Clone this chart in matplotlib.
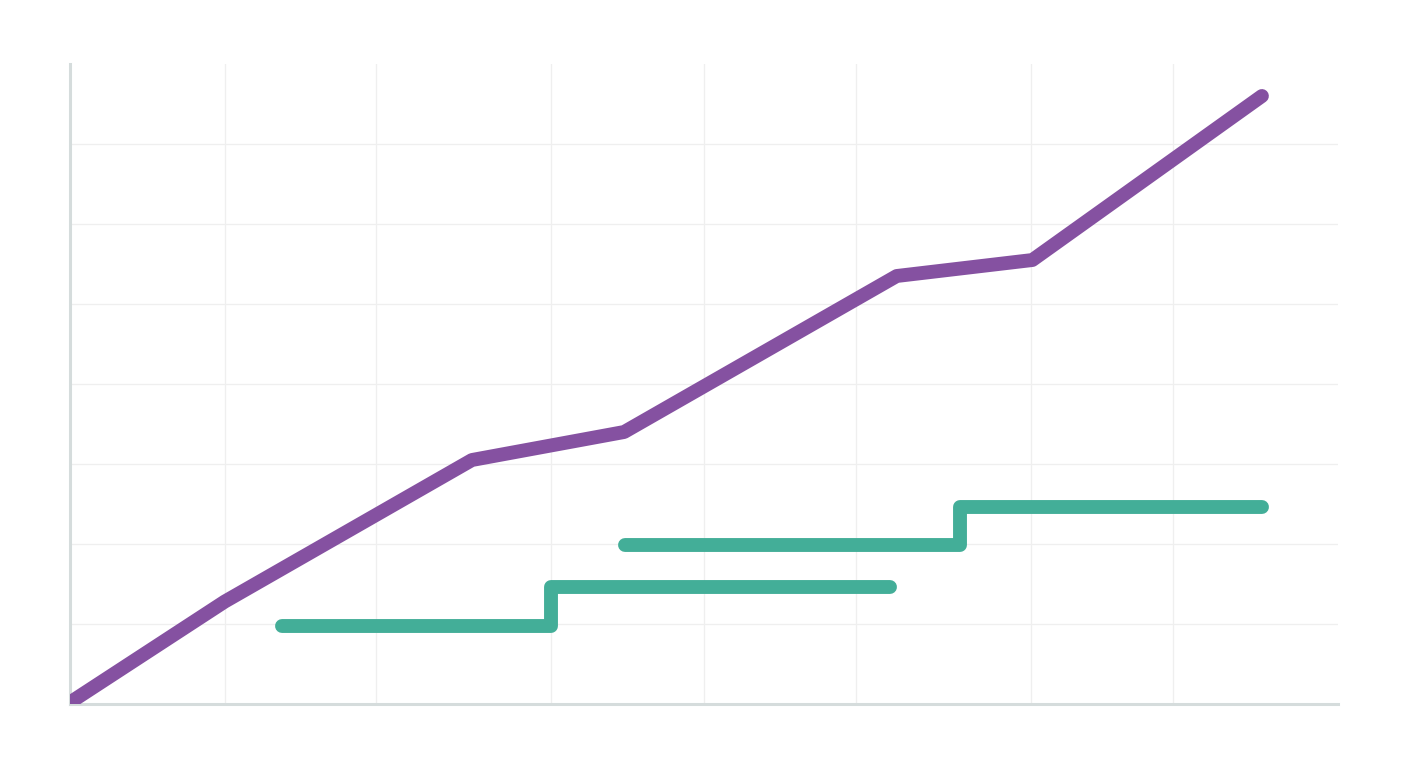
import numpy as np
from matplotlib import pyplot as plt

# x in arbitrary units (0..100), y in grid units (0..8)
x_ticks = [12.2, 24.1, 37.9, 50.0, 62.0, 75.8, 87.0]
y_ticks = [1, 2, 3, 4, 5, 6, 7]

trend_x = [0.3, 12.2, 31.7, 43.7, 65.2, 75.9, 94.0]
trend_y = [0.05, 1.28, 3.05, 3.4, 5.35, 5.55, 7.6]

step1_x = [16.7, 37.9, 64.7]
step1_y = [0.975, 1.46, 1.46]

step2_x = [43.8, 70.2, 94.0]
step2_y = [1.99, 2.46, 2.46]

purple = '#8551a1'
teal = '#43ae98'

fig = plt.figure(figsize=(14.08, 7.68), dpi=100)
ax = fig.add_axes([70/1408, 64/768, 1268/1408, 640/768])

ax.plot(trend_x, trend_y, color=purple, lw=10, solid_capstyle='round',
        solid_joinstyle='round', zorder=3)
ax.plot(step1_x, step1_y, color=teal, lw=10, drawstyle='steps-post',
        solid_capstyle='round', solid_joinstyle='round', zorder=3)
ax.plot(step2_x, step2_y, color=teal, lw=10, drawstyle='steps-post',
        solid_capstyle='round', solid_joinstyle='round', zorder=3)

ax.set_xlim(0, 100)
ax.set_ylim(0, 8)
ax.set_xticks(x_ticks)
ax.set_yticks(y_ticks)
ax.tick_params(length=0, labelbottom=False, labelleft=False)
ax.grid(True, color='#efefef', lw=0.9)
ax.set_axisbelow(True)

for s in ['top', 'right']:
    ax.spines[s].set_visible(False)
for s in ['left', 'bottom']:
    ax.spines[s].set_color('#d5dcdc')
    ax.spines[s].set_linewidth(2.2)

plt.savefig('out.png', dpi=100, facecolor='white')
